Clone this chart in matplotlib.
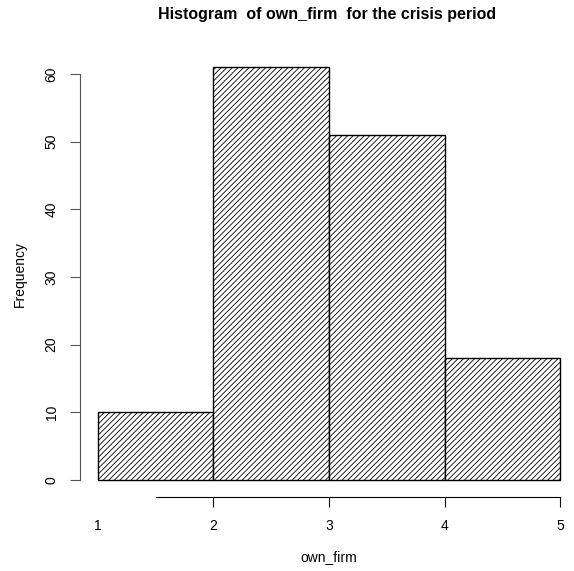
import numpy as np
import matplotlib.pyplot as plt

plt.rcParams['font.family'] = ['Liberation Sans', 'DejaVu Sans']
plt.rcParams['hatch.linewidth'] = 0.6

# histogram of own_firm, crisis period
edges = [1, 2, 3, 4, 5]
counts = [10, 61, 51, 18]
xticks = [1, 2, 3, 4, 5]
yticks = [0, 10, 20, 30, 40, 50, 60]

W, H = 574, 571
fig = plt.figure(figsize=(W / 100, H / 100), dpi=100)
ax = fig.add_axes([79.5 / W, (H - 496.5) / H, 499 / W, 445.8 / H])

left = np.array(edges[:-1])
width = np.diff(edges)
ax.bar(left, counts, width=width, align='edge', facecolor='white',
       edgecolor='black', linewidth=1, hatch='//////')

ax.set_xlim(0.84, 5.16)
ax.set_ylim(-2.44, 63.44)

for s in ['top', 'right']:
    ax.spines[s].set_visible(False)
ax.spines['bottom'].set_bounds(1.5, 5)
ax.spines['left'].set_bounds(0, 60)
ax.spines['left'].set_color('#555555')

ax.set_xticks(xticks)
ax.set_xticklabels([str(v) for v in xticks])
ax.xaxis.get_major_ticks()[0].tick1line.set_visible(False)
ax.set_yticks(yticks)
ax.set_yticklabels([str(v) for v in yticks], rotation=90, va='center')
ax.tick_params(axis='x', length=7, pad=9, labelsize=10)
ax.tick_params(axis='y', length=7, pad=8, labelsize=10, color='#555555')

ax.set_xlabel('own_firm', fontsize=10)
ax.xaxis.set_label_coords(0.5, (496.5 - 557) / 445.8)
ax.xaxis.label.set_va('center')
ax.set_ylabel('Frequency', fontsize=10)
ax.yaxis.set_label_coords((20 - 79.5) / 499, 0.5)
ax.yaxis.label.set_va('center')

fig.text(327 / W, 1 - 15 / H, 'Histogram  of own_firm  for the crisis period',
         ha='center', va='center', fontsize=11.5, fontweight='bold')

fig.savefig('out.png', dpi=100)
